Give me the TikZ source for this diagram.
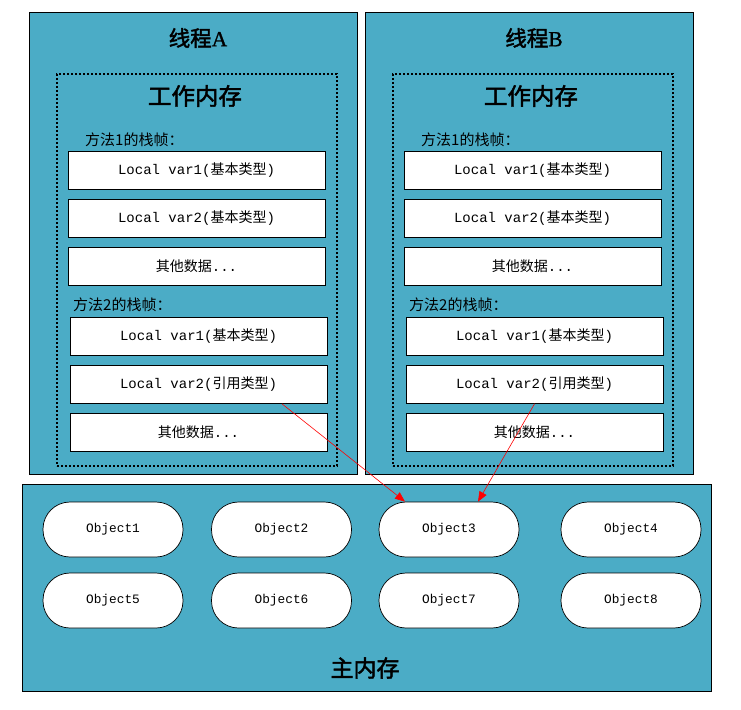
\documentclass[tikz,border=0pt]{standalone}
\usepackage{fontspec}
\setmainfont{Noto Sans CJK SC}
\newfontfamily\cjk{Noto Sans CJK SC}
\newfontfamily\cjkb[FakeBold=2]{Noto Sans CJK SC}
\newfontfamily\titlelat[FakeBold=1]{Liberation Serif}
\newfontfamily\mono{Liberation Mono}
\usetikzlibrary{arrows.meta}
\definecolor{aqua}{HTML}{4BACC6}
\tikzset{
  thread/.style={draw=black, line width=0.9pt, fill=aqua, minimum width=328pt, minimum height=462pt, inner sep=0pt, outer sep=0pt},
  workmem/.style={draw=black, line width=1.6pt, dash pattern=on 2pt off 2pt, minimum width=280pt, minimum height=392pt, inner sep=0pt},
  varbox/.style={draw=black, line width=0.7pt, fill=white, minimum width=257pt, minimum height=38pt, inner sep=0pt, font=\fontsize{14}{16}\selectfont},
  mainbox/.style={draw=black, line width=0.9pt, fill=aqua, minimum width=689pt, minimum height=207pt, inner sep=0pt},
  obj/.style={draw=black, line width=0.7pt, fill=white, rounded corners=27pt, minimum width=140pt, minimum height=55pt, inner sep=0pt, font=\mono\fontsize{12.8}{14}\selectfont},
  bigtitle/.style={font=\cjkb\fontsize{21.5}{24}\selectfont, inner sep=0pt},
  frame/.style={font=\cjk\fontsize{15}{17}\selectfont, inner sep=0pt, anchor=west},
  ref/.style={draw=red, line width=0.6pt, -{Triangle[length=10pt,width=8pt]}}
}
\newcommand{\lv}[2]{{\mono Local var#1(}{\cjk #2}{\mono )}}
\newcommand{\other}{{\cjk 其他数据}{\mono ...}}
\begin{document}
\begin{tikzpicture}[x=1pt,y=-1pt]
\fill[white] (0,0) rectangle (741,709);
\useasboundingbox (0,0) rectangle (741,709);
% threads
\foreach \t/\dx/\L in {a/0/A, b/336/B}{
  \node[thread] (\t thr) at (193+\dx,243) {};
  \node[workmem] (\t wm) at (197+\dx,270) {};
  \node[bigtitle] (\t title) at (198+\dx,38) {线程{\titlelat\L}};
  \node[bigtitle, font=\cjkb\fontsize{23.5}{26}\selectfont] (\t wmt) at (195+\dx,96) {工作内存};
  \node[frame] (\t f1) at (85+\dx,140) {方法1的栈帧：};
  \node[frame] (\t f2) at (73+\dx,305) {方法2的栈帧：};
  \node[varbox] (\t 1) at (196.5+\dx,170) {\lv{1}{基本类型}};
  \node[varbox] (\t 2) at (196.5+\dx,218) {\lv{2}{基本类型}};
  \node[varbox] (\t 3) at (196.5+\dx,266) {\other};
  \node[varbox] (\t 4) at (198.5+\dx,336) {\lv{1}{基本类型}};
  \node[varbox] (\t 5) at (198.5+\dx,384.5) {\lv{2}{引用类型}};
  \node[varbox] (\t 6) at (198.5+\dx,432.5) {\other};
}
% main memory
\node[mainbox] (main) at (366.5,587.5) {};
\node[obj] (o1) at (113,529.5) {Object1};
\node[obj] (o2) at (281.5,529.5) {Object2};
\node[obj] (o3) at (449,529.5) {Object3};
\node[obj] (o4) at (631,529.5) {Object4};
\node[obj] (o5) at (113,600.5) {Object5};
\node[obj] (o6) at (281.5,600.5) {Object6};
\node[obj] (o7) at (449,600.5) {Object7};
\node[obj] (o8) at (631,600.5) {Object8};
\node[bigtitle, font=\cjkb\fontsize{23}{26}\selectfont] (maint) at (365,668) {主内存};
% references
\draw[ref] ([xshift=83.5pt]a5.south) -- ([xshift=-44pt]o3.north);
\draw[ref] (b5.south) -- ([xshift=29pt]o3.north);
\end{tikzpicture}
\end{document}
